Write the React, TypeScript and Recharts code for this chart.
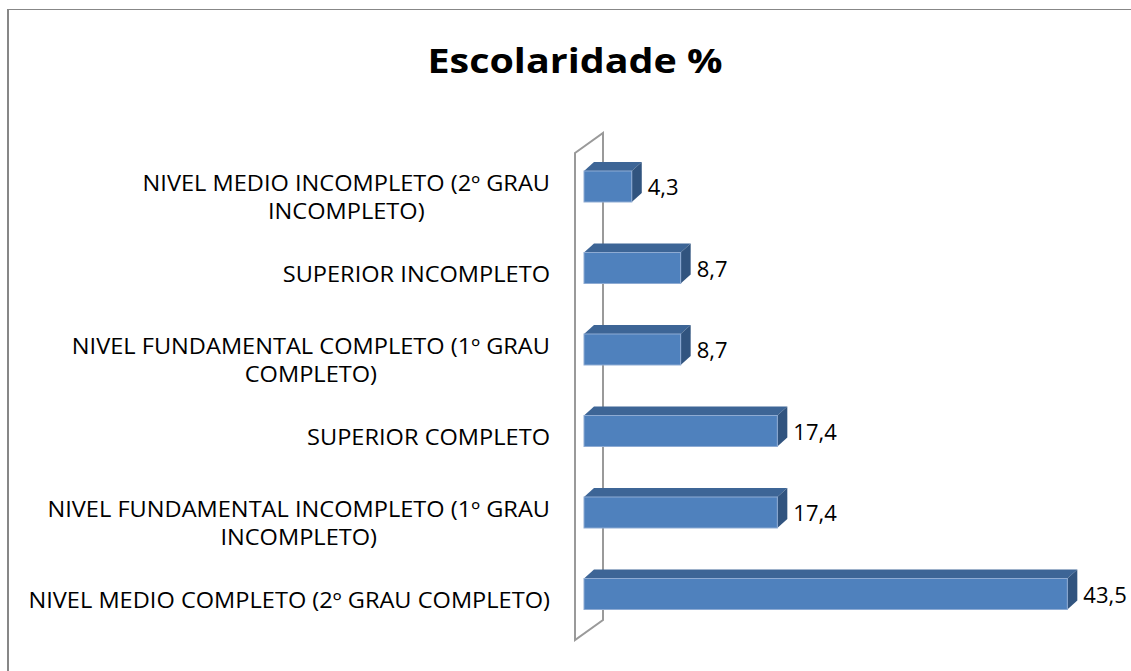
import React from "react";
import { BarChart, Bar, XAxis, YAxis, ReferenceArea, LabelList } from "recharts";

const categories = [
  "NIVEL MEDIO INCOMPLETO (2º GRAU INCOMPLETO)",
  "SUPERIOR INCOMPLETO",
  "NIVEL FUNDAMENTAL COMPLETO (1º GRAU COMPLETO)",
  "SUPERIOR COMPLETO",
  "NIVEL FUNDAMENTAL INCOMPLETO (1º GRAU INCOMPLETO)",
  "NIVEL MEDIO COMPLETO (2º GRAU COMPLETO)",
];

const values = [4.3, 8.7, 8.7, 17.4, 17.4, 43.5];

const tickLabelLines = [
  ["NIVEL MEDIO INCOMPLETO (2º GRAU", "INCOMPLETO)"],
  ["SUPERIOR INCOMPLETO"],
  ["NIVEL FUNDAMENTAL COMPLETO (1º GRAU", "COMPLETO)"],
  ["SUPERIOR COMPLETO"],
  ["NIVEL FUNDAMENTAL INCOMPLETO (1º GRAU", "INCOMPLETO)"],
  ["NIVEL MEDIO COMPLETO (2º GRAU COMPLETO)"],
];

const xDomain = [0, 45];
const title = "Escolaridade %";

const data = categories.map((name, i) => ({ name, value: values[i], lines: tickLabelLines[i] }));

const FONT = "'Open Sans', Lato, sans-serif";
const TICK_SIZE = 21.5;
const TICK_STRETCH = 1.097;
const TITLE_SIZE = 34;
const TITLE_STRETCH = 1.16;

let ctx: CanvasRenderingContext2D | null = null;
function measure(text: string, size: number, bold = false) {
  if (!ctx) {
    const c = document.createElement("canvas");
    ctx = c.getContext("2d");
  }
  if (!ctx) return text.length * size * 0.6;
  ctx.font = `${bold ? "bold " : ""}${size}px "Open Sans"`;
  return ctx.measureText(text).width;
}

const CategoryTick = (props: any) => {
  const { x, y, payload, index } = props;
  const lines: string[] = data[index]?.lines ?? [String(payload.value)];
  const widths = lines.map((l) => measure(l, TICK_SIZE) * TICK_STRETCH);
  const maxW = Math.max(...widths);
  const cx = x - maxW / 2;
  const n = lines.length;
  const firstCenter = y + 6.5 - (n - 1) * 9.5;
  return (
    <g>
      {lines.map((l, i) => (
        <text
          key={i}
          x={cx - widths[i] / 2}
          y={firstCenter + i * 28 + TICK_SIZE * 0.357}
          textAnchor="start"
          textLength={widths[i]}
          lengthAdjust="spacingAndGlyphs"
          fontFamily={FONT}
          fontSize={TICK_SIZE}
          fill="#000"
        >
          {l}
        </text>
      ))}
    </g>
  );
};

const DX = 10;
const DY = 9;

const Bar3D = (props: any) => {
  const { x, y, width, height } = props;
  if (width == null || height == null) return null;
  const r = x + width;
  const b = y + height;
  return (
    <g>
      <polygon
        points={`${x},${y} ${x + DX},${y - DY} ${r + DX},${y - DY} ${r},${y}`}
        fill="#3D6596"
      />
      <polygon
        points={`${r},${y} ${r + DX},${y - DY} ${r + DX},${b - DY} ${r},${b}`}
        fill="#31547F"
      />
      <rect x={x} y={y} width={width} height={height} fill="#4F81BD" stroke="#8EABD3" strokeWidth={1} />
    </g>
  );
};

const ValueLabel = (props: any) => {
  const { x, y, width, height, value } = props;
  return (
    <text
      x={x + width + 16}
      y={y + height / 2 + 1 + 22 * 0.357}
      fontFamily={FONT}
      fontSize={22}
      fill="#000"
    >
      {Number(value).toFixed(1).replace(".", ",")}
    </text>
  );
};

const Wall = (props: any) => {
  const { x, y, height } = props;
  const L = x;
  const T = y;
  const B = y + height;
  const d = `M ${L - 9} ${T + 7} L ${L + 19} ${T - 13} L ${L + 19} ${B - 15} L ${L - 9} ${B + 5} Z`;
  return <path d={d} fill="none" stroke="#9a9a9a" strokeWidth={2} />;
};

export default function App() {
  const titleW = measure(title, TITLE_SIZE, true) * TITLE_STRETCH;
  return (
    <div style={{ position: "absolute", left: 0, top: 0, width: 1131, height: 671, overflow: "hidden", background: "#fff" }}>
      <div
        style={{
          position: "absolute",
          left: 7,
          top: 9,
          width: 1140,
          height: 680,
          boxSizing: "border-box",
          borderLeft: "2px solid #878787",
          borderTop: "1px solid #878787",
        }}
      />
      <div style={{ position: "absolute", left: 0, top: 0 }}>
        <BarChart
          width={1131}
          height={671}
          data={data}
          layout="vertical"
          margin={{ top: 146, right: 47, bottom: 36, left: 0 }}
          barSize={31}
        >
          <XAxis type="number" domain={xDomain} hide />
          <YAxis
            type="category"
            dataKey="name"
            width={584}
            axisLine={false}
            tickLine={false}
            tickMargin={28}
            interval={0}
            tick={CategoryTick}
          />
          <ReferenceArea x1={0} x2={45} shape={Wall} ifOverflow="visible" />
          <Bar dataKey="value" shape={Bar3D} isAnimationActive={false}>
            <LabelList dataKey="value" content={ValueLabel} />
          </Bar>
        </BarChart>
      </div>
      <svg style={{ position: "absolute", left: 0, top: 0 }} width={1131} height={110}>
        <text
          x={575 - titleW / 2}
          y={73}
          textLength={titleW}
          lengthAdjust="spacingAndGlyphs"
          fontFamily={FONT}
          fontWeight="bold"
          fontSize={TITLE_SIZE}
          fill="#000"
        >
          {title}
        </text>
      </svg>
    </div>
  );
}
